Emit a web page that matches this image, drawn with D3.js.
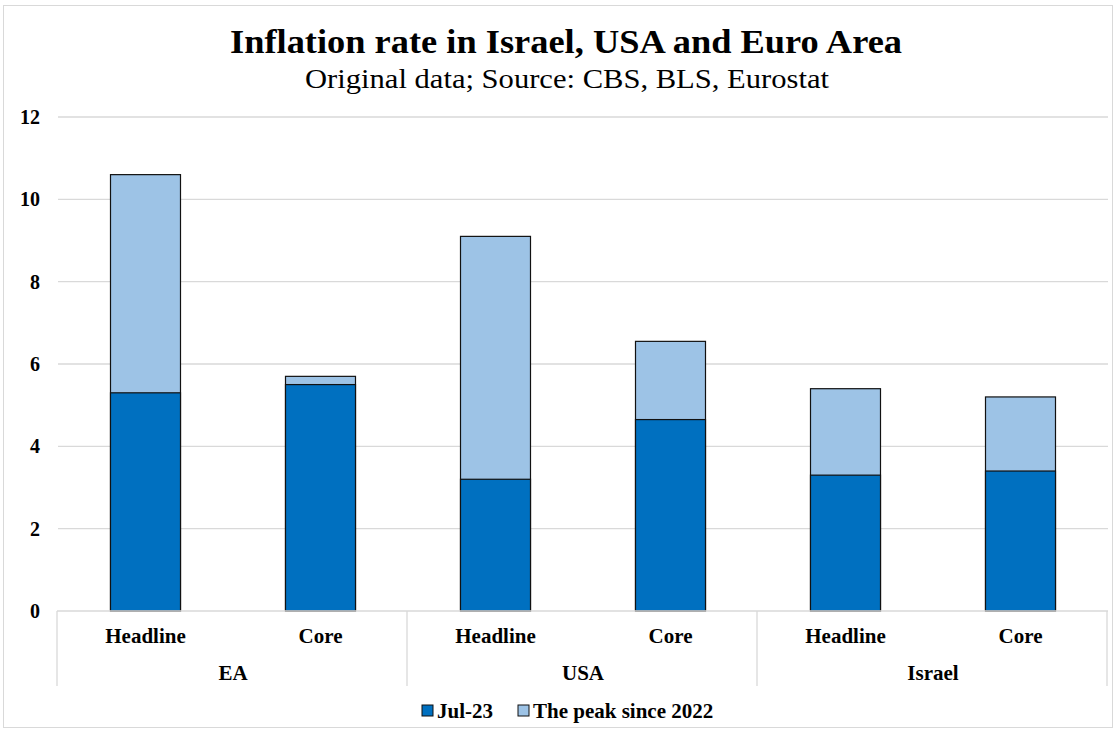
<!DOCTYPE html>
<html>
<head>
<meta charset="utf-8">
<script src="https://cdn.jsdelivr.net/npm/d3@7"></script>
<style>
  body { margin: 0; background: #fff; }
  svg { font-family: "Liberation Serif", "Times New Roman", serif; }
</style>
</head>
<body>
<svg id="chart" width="1115" height="730"></svg>
<script>
// data
const groups = ["EA", "USA", "Israel"];
const kinds = ["Headline", "Core"];
const jul23 = [5.3, 5.5, 3.2, 4.65, 3.3, 3.4];
const peak = [10.6, 5.7, 9.1, 6.55, 5.4, 5.2];
const yTicks = [0, 2, 4, 6, 8, 10, 12];
const seriesNames = ["Jul-23", "The peak since 2022"];
const colors = ["#0070C0", "#9DC3E6"];

const svg = d3.select("#chart");
const margin = { left: 58, right: 7, top: 117, bottom: 119 };
const W = 1115, H = 730;

// outer border
svg.append("rect")
    .attr("x", 3.5).attr("y", 5.5)
    .attr("width", W - 6).attr("height", H - 8)
    .attr("fill", "none").attr("stroke", "#d9d9d9");

svg.append("text")
    .attr("x", 566).attr("y", 53)
    .attr("text-anchor", "middle")
    .attr("textLength", 672).attr("lengthAdjust", "spacingAndGlyphs")
    .style("font-size", "34px").style("font-weight", "bold")
    .text("Inflation rate in Israel, USA and Euro Area");
svg.append("text")
    .attr("x", 567).attr("y", 88)
    .attr("text-anchor", "middle")
    .attr("textLength", 524).attr("lengthAdjust", "spacingAndGlyphs")
    .style("font-size", "27px")
    .text("Original data; Source: CBS, BLS, Eurostat");

const cats = [];
groups.forEach(g => kinds.forEach(k => cats.push(g + "|" + k)));

const x = d3.scaleBand()
    .domain(cats)
    .range([margin.left, W - margin.right])
    .paddingInner(0.6).paddingOuter(0.3);
const y = d3.scaleLinear().domain([0, 12]).range([H - margin.bottom, margin.top]);

// grid lines
svg.append("g")
    .selectAll("line")
    .data(yTicks.slice(1))
    .join("line")
    .attr("x1", margin.left).attr("x2", W - margin.right)
    .attr("y1", d => y(d)).attr("y2", d => y(d))
    .attr("stroke", "#d9d9d9").attr("stroke-width", 1.3);

// y tick labels
svg.append("g")
    .selectAll("text")
    .data(yTicks)
    .join("text")
    .attr("x", 40).attr("y", d => y(d) + 7)
    .attr("text-anchor", "end")
    .style("font-size", "20px").style("font-weight", "bold")
    .text(d => d);

// bars: peak behind, Jul-23 in front
const bars = svg.append("g");
bars.selectAll("rect.peak")
    .data(peak)
    .join("rect")
    .attr("class", "peak")
    .attr("x", (d, i) => x(cats[i]))
    .attr("width", x.bandwidth())
    .attr("y", d => y(d))
    .attr("height", d => y(0) - y(d))
    .attr("fill", colors[1]).attr("stroke", "#111").attr("stroke-width", 1.2);
bars.selectAll("rect.jul")
    .data(jul23)
    .join("rect")
    .attr("class", "jul")
    .attr("x", (d, i) => x(cats[i]))
    .attr("width", x.bandwidth())
    .attr("y", d => y(d))
    .attr("height", d => y(0) - y(d))
    .attr("fill", colors[0]).attr("stroke", "#111").attr("stroke-width", 1.2);

// category axis
const axisY = y(0);
svg.append("line")
    .attr("x1", margin.left - 1).attr("x2", W - margin.right)
    .attr("y1", axisY).attr("y2", axisY)
    .attr("stroke", "#d9d9d9").attr("stroke-width", 1.3);

const groupW = (W - margin.right - margin.left) / groups.length;
svg.append("g")
    .selectAll("line")
    .data(d3.range(groups.length + 1))
    .join("line")
    .attr("x1", i => margin.left - 1 + i * groupW).attr("x2", i => margin.left - 1 + i * groupW)
    .attr("y1", axisY).attr("y2", axisY + 75)
    .attr("stroke", "#d9d9d9").attr("stroke-width", 1.3);

svg.append("g")
    .selectAll("text")
    .data(cats)
    .join("text")
    .attr("x", d => x(d) + x.bandwidth() / 2)
    .attr("y", axisY + 32)
    .attr("text-anchor", "middle")
    .style("font-size", "21px").style("font-weight", "bold")
    .text(d => d.split("|")[1]);

svg.append("g")
    .selectAll("text")
    .data(groups)
    .join("text")
    .attr("x", (d, i) => margin.left + (i + 0.5) * groupW)
    .attr("y", axisY + 69)
    .attr("text-anchor", "middle")
    .style("font-size", "21px").style("font-weight", "bold")
    .text(d => d);

// legend
const legendX = [422, 518];
const leg = svg.append("g")
    .selectAll("g")
    .data(seriesNames)
    .join("g")
    .attr("transform", (d, i) => `translate(${legendX[i]},705)`);
leg.append("rect")
    .attr("width", 11).attr("height", 11)
    .attr("fill", (d, i) => colors[i]).attr("stroke", "#111").attr("stroke-width", 1);
leg.append("text")
    .attr("x", 15).attr("y", 13)
    .style("font-size", "21px").style("font-weight", "bold")
    .text(d => d);
</script>
</body>
</html>
